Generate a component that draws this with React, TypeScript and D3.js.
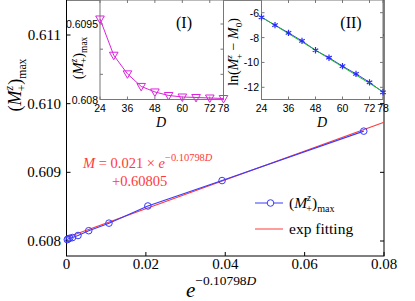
import { useEffect, useRef } from "react";
import * as d3 from "d3";

// bond dimension D and the abscissa e^{-0.10798 D}
const dims = [24, 30, 36, 42, 48, 54, 60, 66, 72, 78];
const expX = [0.0749, 0.0392, 0.0205, 0.0107, 0.0056, 0.0029, 0.0015, 0.0008, 0.0004, 0.0002];
// (M+z)max
const mMax = [0.6096, 0.60888, 0.60851, 0.60826, 0.60815, 0.60808, 0.60805, 0.60804, 0.60803, 0.60802];
// ln(M - M0) in inset II
const lnDiff = [-6.37, -7.0, -7.62, -8.27, -9.02, -9.62, -10.3, -10.92, -11.6, -12.4];
const lnFitEnds = [-6.35, -12.35];
// fit M = a * e^{-bD} + c
const fitA = 0.021;
const fitC = 0.60805;
const fitRange = [0, 0.08];

const mainXTicks = [0, 0.02, 0.04, 0.06, 0.08];
const mainYTicks = [0.608, 0.609, 0.61, 0.611];
const insetDTicks = [24, 36, 48, 60, 72, 78];
const inset1YTicks = [0.608, 0.6085, 0.609, 0.6095];
const inset1YLabels = [0.608, 0.6095];
const inset2YTicks = [-12, -10, -8, -6];

const SERIF = "'Liberation Serif', 'DejaVu Serif', serif";
const SANS = "'Liberation Sans', Arial, sans-serif";
const BLUE = "#3a3aff";
const RED = "#ff3a3a";
const MAGENTA = "#dd22dd";
const GREEN = "#22bb22";

// text with sub/superscripts: each part {t, i (italic), s (scale), sh (baseline shift in em), dx}
function mathText(parent, x, y, parts, opts) {
  const size = opts.size;
  const t = parent
    .append("text")
    .attr("x", x)
    .attr("y", y)
    .attr("font-family", SERIF)
    .attr("font-size", size)
    .attr("fill", opts.fill || "#000")
    .attr("text-anchor", opts.anchor || "start");
  if (opts.rotate) t.attr("transform", `rotate(${opts.rotate}, ${x}, ${y})`);
  let cur = 0;
  for (const p of parts) {
    const sh = (p.sh || 0) * size;
    const ts = t
      .append("tspan")
      .attr("dy", sh - cur)
      .attr("font-size", (p.s || 1) * size)
      .attr("font-style", p.i ? "italic" : "normal")
      .text(p.t);
    if (p.dx) ts.attr("dx", p.dx);
    cur = sh;
  }
  return t;
}

const mzParts = (size) => [
  { t: "(" },
  { t: "M", i: true },
  { t: "z", i: true, s: 0.65, sh: -0.42 },
  { t: "+", s: 0.65, sh: 0.25, dx: -size * 0.3 },
  { t: ")" },
  { t: "max", s: 0.65, sh: 0.25 },
];

function drawFrame(g, x, y, color) {
  const [x0, x1] = x.range();
  const [y0, y1] = y.range();
  g.append("rect")
    .attr("x", x0)
    .attr("y", Math.min(y0, y1))
    .attr("width", x1 - x0)
    .attr("height", Math.abs(y0 - y1))
    .attr("fill", "none")
    .attr("stroke", color)
    .attr("stroke-width", 1);
  return { x0, x1, yb: Math.max(y0, y1), yt: Math.min(y0, y1) };
}

function App() {
  const ref = useRef(null);

  useEffect(() => {
    const svg = d3.select(ref.current);
    svg.selectAll("*").remove();

    // ---------- main plot ----------
    const x = d3.scaleLinear().domain([0, 0.08]).range([66.5, 384]);
    const yPix = d3.scaleLinear().domain([0.608, 0.611]).range([241, 35]);
    const y = d3.scaleLinear().domain([yPix.invert(256), yPix.invert(0)]).range([256, 0]);

    const main = svg.append("g");
    const f = drawFrame(main, x, y, "#000");

    for (const v of mainXTicks) {
      main.append("line").attr("x1", x(v)).attr("x2", x(v)).attr("y1", f.yb).attr("y2", f.yb - 4).attr("stroke", "#000");
      main
        .append("text")
        .attr("x", x(v))
        .attr("y", 268.5)
        .attr("text-anchor", "middle")
        .attr("font-family", SERIF)
        .attr("font-size", 15)
        .text(v === 0 ? "0" : d3.format(".2f")(v));
    }
    for (const v of mainYTicks) {
      main.append("line").attr("x1", f.x0).attr("x2", f.x0 + 4).attr("y1", y(v)).attr("y2", y(v)).attr("stroke", "#000");
      main.append("line").attr("x1", f.x1).attr("x2", f.x1 - 4).attr("y1", y(v)).attr("y2", y(v)).attr("stroke", "#000");
      main
        .append("text")
        .attr("x", 61)
        .attr("y", y(v) + 5)
        .attr("text-anchor", "end")
        .attr("font-family", SERIF)
        .attr("font-size", 15)
        .text(d3.format(".3f")(v));
    }

    // axis labels
    mathText(main, 21, 85, mzParts(18), { size: 18, anchor: "middle", rotate: -90 });
    mathText(
      main,
      186,
      297,
      [
        { t: "e", i: true },
        { t: "−0.10798", s: 0.64, sh: -0.57 },
        { t: "D", i: true, s: 0.64, sh: -0.57 },
      ],
      { size: 21 }
    );

    // exp fit (red)
    const fitX = d3.range(fitRange[0], fitRange[1] + 1e-9, 0.08);
    main
      .append("path")
      .datum(fitX)
      .attr("fill", "none")
      .attr("stroke", RED)
      .attr("stroke-width", 1.1)
      .attr("d", d3.line().x((d) => x(d)).y((d) => y(fitA * d + fitC)));

    // data (blue)
    const pts = expX.map((e, i) => [e, mMax[i]]);
    main
      .append("path")
      .datum(pts)
      .attr("fill", "none")
      .attr("stroke", BLUE)
      .attr("stroke-width", 1.1)
      .attr("d", d3.line().x((d) => x(d[0])).y((d) => y(d[1])));
    main
      .selectAll("circle.pt")
      .data(pts)
      .enter()
      .append("circle")
      .attr("cx", (d) => x(d[0]))
      .attr("cy", (d) => y(d[1]))
      .attr("r", 3.3)
      .attr("fill", "none")
      .attr("stroke", BLUE)
      .attr("stroke-width", 1);

    // fit formula
    mathText(
      main,
      83,
      168,
      [
        { t: "M", i: true },
        { t: " = 0.021 × " },
        { t: "e", i: true },
        { t: "−0.10798", s: 0.72, sh: -0.45 },
        { t: "D", i: true, s: 0.72, sh: -0.45 },
      ],
      { size: 14.5, fill: RED }
    );
    mathText(main, 112, 186, [{ t: "+0.60805" }], { size: 14.5, fill: RED });

    // legend
    const leg = main.append("g");
    leg.append("line").attr("x1", 255).attr("x2", 283).attr("y1", 203).attr("y2", 203).attr("stroke", BLUE);
    leg.append("circle").attr("cx", 270.5).attr("cy", 203).attr("r", 3.3).attr("fill", "#fff").attr("stroke", BLUE);
    mathText(leg, 289, 208, mzParts(15.5), { size: 15.5 });
    leg.append("line").attr("x1", 255).attr("x2", 283).attr("y1", 229).attr("y2", 229).attr("stroke", RED);
    mathText(leg, 289, 234, [{ t: "exp fitting" }], { size: 15.5 });

    // ---------- inset I ----------
    const x1 = d3.scaleLinear().domain([24, 78]).range([100, 223.5]);
    const y1p = d3.scaleLinear().domain([0.608, 0.6095]).range([99.5, 24]);
    const y1 = d3.scaleLinear().domain([0.608, y1p.invert(0)]).range([99.5, 0]);
    const in1 = svg.append("g");
    in1.append("rect").attr("x", 100).attr("y", 0).attr("width", 123.5).attr("height", 99.5).attr("fill", "#fff");
    const f1 = drawFrame(in1, x1, y1, "#777");
    for (const v of insetDTicks) {
      in1.append("line").attr("x1", x1(v)).attr("x2", x1(v)).attr("y1", f1.yb).attr("y2", f1.yb - 3).attr("stroke", "#777");
      in1.append("line").attr("x1", x1(v)).attr("x2", x1(v)).attr("y1", f1.yt).attr("y2", f1.yt + 3).attr("stroke", "#777");
      in1.append("text").attr("x", x1(v)).attr("y", 112).attr("text-anchor", "middle").attr("font-family", SANS).attr("font-size", 10.5).text(v);
    }
    for (const v of inset1YTicks) {
      in1.append("line").attr("x1", f1.x0).attr("x2", f1.x0 + 3).attr("y1", y1(v)).attr("y2", y1(v)).attr("stroke", "#777");
      in1.append("line").attr("x1", f1.x1).attr("x2", f1.x1 - 3).attr("y1", y1(v)).attr("y2", y1(v)).attr("stroke", "#777");
    }
    for (const v of inset1YLabels) {
      in1.append("text").attr("x", 98).attr("y", y1(v) + 4).attr("text-anchor", "end").attr("font-family", SANS).attr("font-size", 10.5).text(v);
    }
    const pts1 = dims.map((d, i) => [d, mMax[i]]);
    in1
      .append("path")
      .datum(pts1)
      .attr("fill", "none")
      .attr("stroke", MAGENTA)
      .attr("stroke-width", 1)
      .attr("d", d3.line().x((d) => x1(d[0])).y((d) => y1(d[1])));
    const tri = d3.symbol().type(d3.symbolTriangle).size(32);
    in1
      .selectAll("path.tri")
      .data(pts1)
      .enter()
      .append("path")
      .attr("d", tri)
      .attr("transform", (d) => `translate(${x1(d[0])}, ${y1(d[1]) - 0.5}) rotate(180)`)
      .attr("fill", "none")
      .attr("stroke", MAGENTA)
      .attr("stroke-width", 1);
    mathText(in1, 184, 28, [{ t: "(I)" }], { size: 16, anchor: "middle" });
    mathText(in1, 83, 58, mzParts(14.5), { size: 14.5, anchor: "middle", rotate: -90 });
    mathText(in1, 161, 127, [{ t: "D", i: true }], { size: 14, anchor: "middle" });

    // ---------- inset II ----------
    const x2 = d3.scaleLinear().domain([24, 78]).range([261.5, 383]);
    const y2p = d3.scaleLinear().domain([-6, -12]).range([12.7, 87.3]);
    const y2 = d3.scaleLinear().domain([y2p.invert(99.5), y2p.invert(0)]).range([99.5, 0]);
    const in2 = svg.append("g");
    in2.append("rect").attr("x", 261.5).attr("y", 0).attr("width", 121.5).attr("height", 99.5).attr("fill", "#fff");
    const f2 = drawFrame(in2, x2, y2, "#777");
    for (const v of insetDTicks) {
      in2.append("line").attr("x1", x2(v)).attr("x2", x2(v)).attr("y1", f2.yb).attr("y2", f2.yb - 3).attr("stroke", "#777");
      in2.append("line").attr("x1", x2(v)).attr("x2", x2(v)).attr("y1", f2.yt).attr("y2", f2.yt + 3).attr("stroke", "#777");
      in2.append("text").attr("x", x2(v)).attr("y", 112).attr("text-anchor", "middle").attr("font-family", SANS).attr("font-size", 10.5).text(v);
    }
    for (const v of inset2YTicks) {
      in2.append("line").attr("x1", f2.x0).attr("x2", f2.x0 + 3).attr("y1", y2(v)).attr("y2", y2(v)).attr("stroke", "#777");
      in2.append("line").attr("x1", f2.x1).attr("x2", f2.x1 - 3).attr("y1", y2(v)).attr("y2", y2(v)).attr("stroke", "#777");
      in2.append("text").attr("x", 259).attr("y", y2(v) + 4).attr("text-anchor", "end").attr("font-family", SANS).attr("font-size", 10.5).text(v);
    }
    const pts2 = dims.map((d, i) => [d, lnDiff[i]]);
    in2
      .append("path")
      .datum(pts2)
      .attr("fill", "none")
      .attr("stroke", BLUE)
      .attr("stroke-width", 1)
      .attr("d", d3.line().x((d) => x2(d[0])).y((d) => y2(d[1])));
    in2
      .append("path")
      .datum([
        [dims[0], lnFitEnds[0]],
        [dims[dims.length - 1], lnFitEnds[1]],
      ])
      .attr("fill", "none")
      .attr("stroke", GREEN)
      .attr("stroke-width", 1)
      .attr("d", d3.line().x((d) => x2(d[0])).y((d) => y2(d[1])));
    const star = d3.symbol().type(d3.symbolAsterisk).size(28);
    in2
      .selectAll("path.star")
      .data(pts2)
      .enter()
      .append("path")
      .attr("d", star)
      .attr("transform", (d) => `translate(${x2(d[0])}, ${y2(d[1])})`)
      .attr("fill", "none")
      .attr("stroke", "#2a2aff")
      .attr("stroke-width", 1.2);
    mathText(in2, 351, 28, [{ t: "(II)" }], { size: 16, anchor: "middle" });
    mathText(
      in2,
      238,
      52,
      [
        { t: "ln(" },
        { t: "M", i: true },
        { t: "z", i: true, s: 0.65, sh: -0.42 },
        { t: "+", s: 0.65, sh: 0.25, dx: -4 },
        { t: " − " },
        { t: "M", i: true },
        { t: "0", s: 0.65, sh: 0.25 },
        { t: ")" },
      ],
      { size: 14, anchor: "middle", rotate: -90 }
    );
    mathText(in2, 322, 127, [{ t: "D", i: true }], { size: 14, anchor: "middle" });
  }, []);

  return (
    <div style={{ position: "fixed", left: 0, top: 0, background: "#fff" }}>
      <svg ref={ref} width={415} height={301} style={{ display: "block" }} />
    </div>
  );
}

export default App;
